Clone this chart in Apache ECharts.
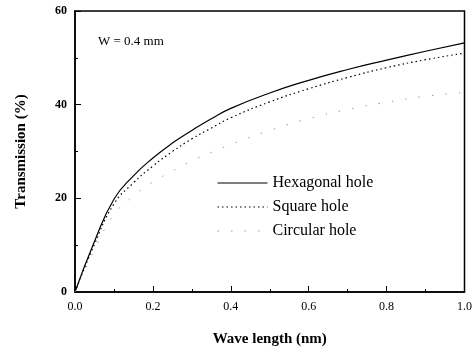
<!DOCTYPE html>
<html lang="en">
<head>
    <meta charset="UTF-8">
    <title>Transmission vs wave length</title>
    <style>
        *{ margin: 0; padding: 0; }
        body,html{ width: 100%; height: 100%; background: #fff; }
        #main{ width: 475px; height: 355px; }
    </style>
</head>
<body>
<div id="main"></div>
<script src="https://cdn.jsdelivr.net/npm/echarts@6/dist/echarts.min.js"></script>
<script type="text/javascript">
    // wave length (nm)
    var waveLen = [0, 0.05, 0.1, 0.15, 0.2, 0.25, 0.3, 0.35, 0.4, 0.5, 0.6, 0.7, 0.8, 0.9, 1.0];
    // transmission (%)
    var hexagonal = [0, 10.8, 19.8, 24.8, 28.6, 31.8, 34.5, 37, 39.2, 42.5, 45.2, 47.5, 49.5, 51.4, 53.2];
    var square    = [0, 10.2, 18.8, 23.3, 26.9, 30, 32.7, 35, 37.2, 40.6, 43.4, 45.8, 47.9, 49.6, 51.0];
    var circular  = [0, 9, 16.5, 20.5, 23.5, 25.8, 28, 29.8, 31.5, 34.5, 37, 39, 40.5, 41.8, 42.6];
    var seriesNames = ['Hexagonal hole', 'Square hole', 'Circular hole'];

    function pairs(ys) {
        return waveLen.map(function (x, i) { return [x, ys[i]]; });
    }

    var serif = '"Liberation Serif", "DejaVu Serif", serif';
    var chart = echarts.init(document.getElementById('main'));

    var option = {
        animation: false,
        grid: {
            left: 75, top: 11, right: 8, bottom: 63,
            show: true, borderColor: '#000', borderWidth: 1.5
        },
        legend: {
            orient: 'vertical',
            left: 212, top: 170,
            itemWidth: 50, itemHeight: 12, itemGap: 8,
            itemStyle: { opacity: 0 },
            lineStyle: { width: 1 },
            textStyle: { fontFamily: serif, fontSize: 16, color: '#000' },
            data: seriesNames
        },
        graphic: [{
            type: 'text', left: 98, top: 35,
            style: { text: 'W = 0.4 mm', font: '13px ' + serif, fill: '#000' }
        }],
        xAxis: {
            type: 'value', min: 0, max: 1, interval: 0.2,
            name: 'Wave length (nm)', nameLocation: 'middle', nameGap: 40,
            nameTextStyle: { fontFamily: serif, fontSize: 15, fontWeight: 'bold', color: '#000' },
            axisLine: { lineStyle: { color: '#000', width: 1.5 } },
            axisTick: { inside: true, length: 6, lineStyle: { color: '#000' } },
            minorTick: { show: true, splitNumber: 2, length: 3, lineStyle: { color: '#000' } },
            axisLabel: { fontFamily: serif, fontSize: 12, color: '#000', margin: 9,
                formatter: function (v) { return v.toFixed(1); } },
            splitLine: { show: false }
        },
        yAxis: {
            type: 'value', min: 0, max: 60, interval: 20,
            name: 'Transmission (%)', nameLocation: 'middle', nameGap: 46,
            nameTextStyle: { fontFamily: serif, fontSize: 15, fontWeight: 'bold', color: '#000' },
            axisLine: { lineStyle: { color: '#000', width: 1.5 } },
            axisTick: { inside: true, length: 6, lineStyle: { color: '#000' } },
            minorTick: { show: true, splitNumber: 2, length: 3, lineStyle: { color: '#000' } },
            axisLabel: { fontFamily: serif, fontSize: 12, fontWeight: 'bold', color: '#000', margin: 8 },
            splitLine: { show: false }
        },
        series: [
            {
                name: seriesNames[0], type: 'line', smooth: true, symbol: 'none',
                color: '#000', lineStyle: { color: '#000', width: 1.2, type: 'solid' },
                data: pairs(hexagonal)
            },
            {
                name: seriesNames[1], type: 'line', smooth: true, symbol: 'none',
                color: '#000', lineStyle: { color: '#000', width: 1.2, type: [1.5, 3] },
                data: pairs(square)
            },
            {
                name: seriesNames[2], type: 'line', smooth: true, symbol: 'none',
                color: '#999', lineStyle: { color: '#999', width: 1, type: [1.5, 12] },
                data: pairs(circular)
            }
        ]
    };
    chart.setOption(option);
</script>
</body>
</html>
